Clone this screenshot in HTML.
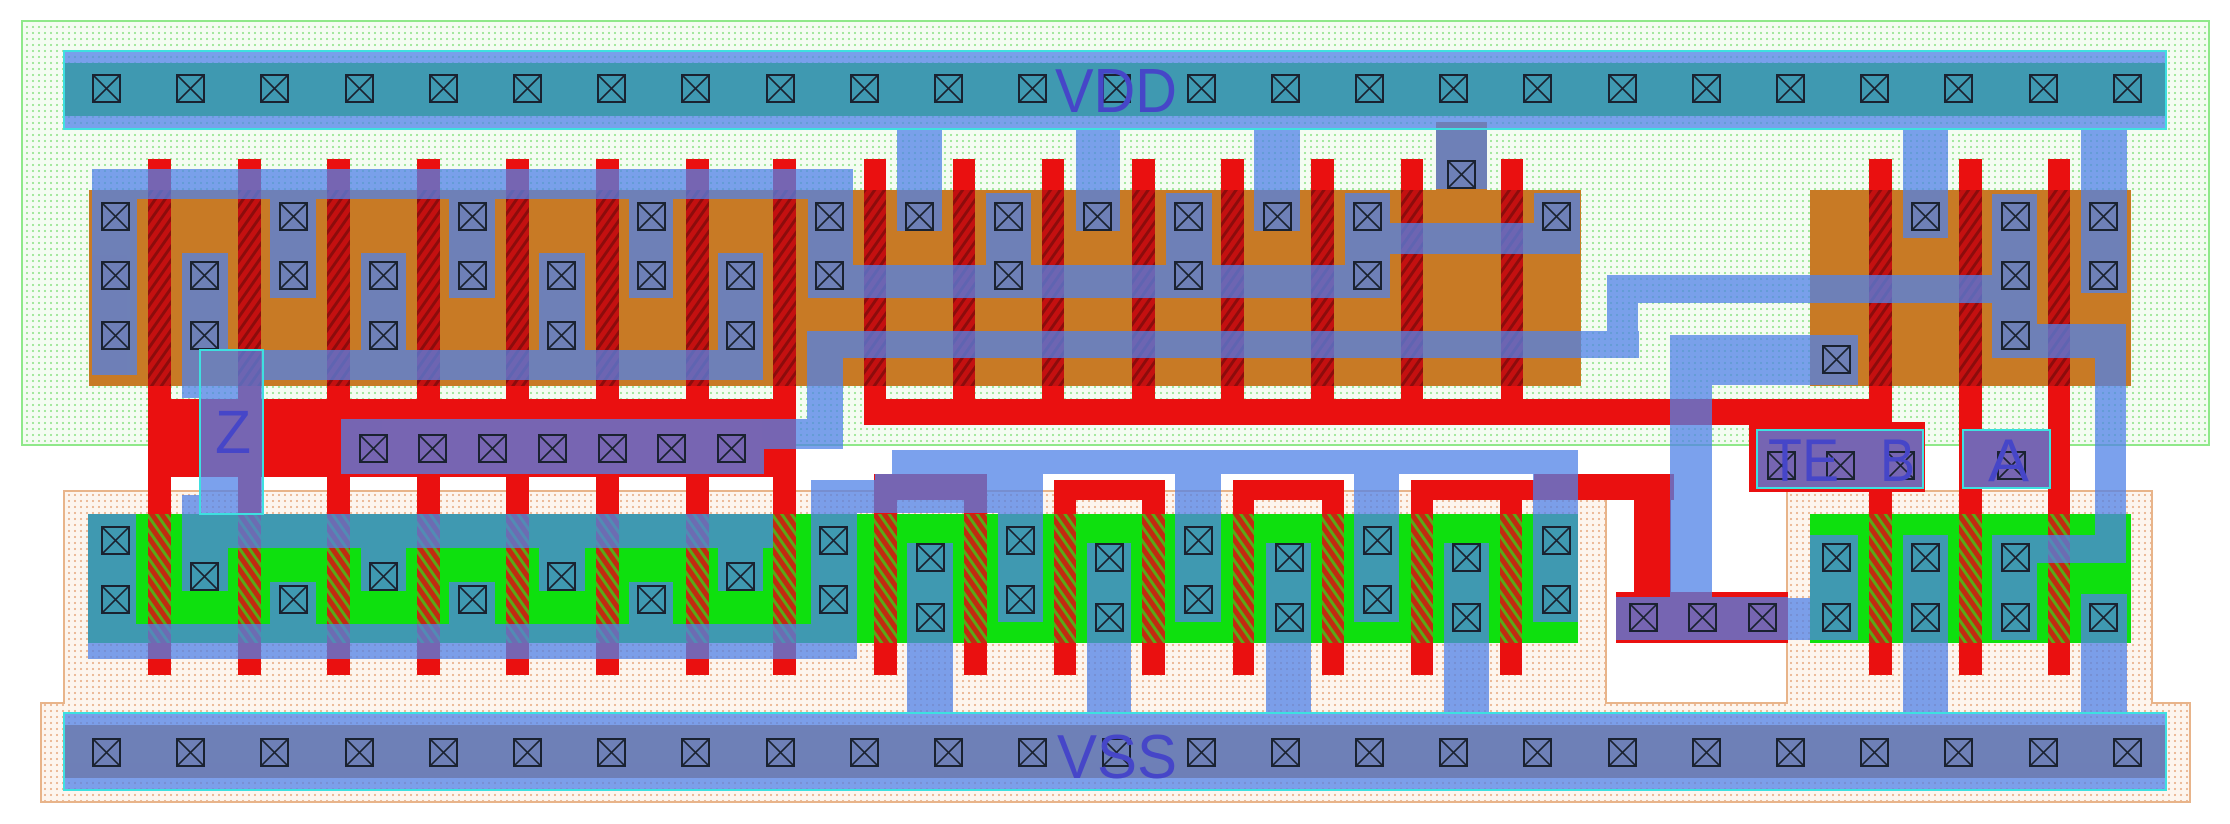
<!DOCTYPE html>
<html><head><meta charset="utf-8"><style>html,body{margin:0;padding:0;background:#fff}svg{display:block}</style></head>
<body>
<svg xmlns="http://www.w3.org/2000/svg" width="2230" height="824" viewBox="0 0 2230 824">
<defs>
<pattern id="nw" width="6" height="6" patternUnits="userSpaceOnUse"><rect width="6" height="6" fill="#f4fcf2"/><circle cx="3" cy="3" r="1.1" fill="#9ce696"/></pattern>
<pattern id="pw" width="6" height="6" patternUnits="userSpaceOnUse"><rect width="6" height="6" fill="#fdf5ee"/><circle cx="3" cy="3" r="1.1" fill="#eab590"/></pattern>
<pattern id="pg" width="8" height="8" patternUnits="userSpaceOnUse" patternTransform="rotate(35)"><rect width="8" height="8" fill="#c41010"/><rect width="3" height="8" fill="#8c0c0c"/></pattern>
<pattern id="ng" width="8" height="8" patternUnits="userSpaceOnUse" patternTransform="rotate(-35)"><rect width="8" height="8" fill="#c22a10"/><rect width="3" height="8" fill="#5aa818"/></pattern>
<symbol id="c" viewBox="0 0 29 29" width="29" height="29"><rect x="1" y="1" width="27" height="27" fill="none" stroke="#1a2230" stroke-width="2"/><path d="M1 1L28 28M28 1L1 28" stroke="#1a2230" stroke-width="1.6"/></symbol>
</defs>

<rect x="22" y="21" width="2187" height="424" fill="url(#nw)" stroke="#8fe88a" stroke-width="2"/>
<polygon points="64,491 1606,491 1606,703 1787,703 1787,491 2152,491 2152,703 2190,703 2190,802 41,802 41,703 64,703" fill="url(#pw)" stroke="#e8b48a" stroke-width="2"/>

<g fill="#c87a25">
<rect x="89" y="190" width="1492" height="196"/>
<rect x="1810" y="190" width="321" height="196"/>
<rect x="1436" y="122" width="51" height="68"/>
<rect x="64" y="725" width="2102" height="53"/>
</g>
<g fill="#0ee00e">
<rect x="88" y="514" width="1490" height="129"/>
<rect x="1810" y="514" width="321" height="129"/>
<rect x="64" y="63" width="2102" height="53"/>
</g>

<g fill="#ea1010">
<rect x="148" y="159" width="23" height="516"/><rect x="238" y="159" width="23" height="516"/>
<rect x="327" y="159" width="23" height="516"/><rect x="417" y="159" width="23" height="516"/>
<rect x="506" y="159" width="23" height="516"/><rect x="596" y="159" width="23" height="516"/>
<rect x="686" y="159" width="23" height="516"/><rect x="773" y="159" width="23" height="516"/>
<rect x="148" y="399" width="648" height="78"/>
<rect x="864" y="159" width="22" height="266"/><rect x="953" y="159" width="22" height="266"/>
<rect x="1042" y="159" width="22" height="266"/><rect x="1132" y="159" width="23" height="266"/>
<rect x="1221" y="159" width="23" height="266"/><rect x="1311" y="159" width="23" height="266"/>
<rect x="1401" y="159" width="22" height="266"/><rect x="1501" y="159" width="22" height="266"/>
<rect x="864" y="399" width="1028" height="26"/>
<rect x="1749" y="422" width="176" height="70"/>
<rect x="1869" y="159" width="23" height="516"/>
<rect x="1959" y="159" width="23" height="516"/>
<rect x="2048" y="159" width="22" height="516"/>
<rect x="1959" y="430" width="111" height="58"/>
<rect x="874" y="474" width="23" height="201"/><rect x="964" y="474" width="23" height="201"/>
<rect x="1054" y="480" width="22" height="195"/><rect x="1142" y="480" width="23" height="195"/>
<rect x="1233" y="480" width="21" height="195"/><rect x="1322" y="480" width="22" height="195"/>
<rect x="1411" y="480" width="22" height="195"/><rect x="1500" y="480" width="22" height="195"/>
<rect x="874" y="474" width="113" height="26"/>
<rect x="1054" y="480" width="111" height="20"/>
<rect x="1233" y="480" width="111" height="20"/>
<rect x="1411" y="480" width="123" height="20"/>
<rect x="1534" y="474" width="140" height="26"/>
<rect x="1634" y="474" width="37" height="126"/>
<rect x="1616" y="592" width="172" height="51"/>
</g>

<g fill="url(#pg)">
<rect x="148" y="190" width="23" height="196"/><rect x="238" y="190" width="23" height="196"/>
<rect x="327" y="190" width="23" height="196"/><rect x="417" y="190" width="23" height="196"/>
<rect x="506" y="190" width="23" height="196"/><rect x="596" y="190" width="23" height="196"/>
<rect x="686" y="190" width="23" height="196"/><rect x="773" y="190" width="23" height="196"/>
<rect x="864" y="190" width="22" height="196"/><rect x="953" y="190" width="22" height="196"/>
<rect x="1042" y="190" width="22" height="196"/><rect x="1132" y="190" width="23" height="196"/>
<rect x="1221" y="190" width="23" height="196"/><rect x="1311" y="190" width="23" height="196"/>
<rect x="1401" y="190" width="22" height="196"/><rect x="1501" y="190" width="22" height="196"/>
<rect x="1869" y="190" width="23" height="196"/><rect x="1959" y="190" width="23" height="196"/>
<rect x="2048" y="190" width="22" height="196"/>
</g>
<g fill="url(#ng)">
<rect x="148" y="514" width="23" height="129"/><rect x="238" y="514" width="23" height="129"/>
<rect x="327" y="514" width="23" height="129"/><rect x="417" y="514" width="23" height="129"/>
<rect x="506" y="514" width="23" height="129"/><rect x="596" y="514" width="23" height="129"/>
<rect x="686" y="514" width="23" height="129"/><rect x="773" y="514" width="23" height="129"/>
<rect x="874" y="514" width="23" height="129"/><rect x="964" y="514" width="23" height="129"/>
<rect x="1054" y="514" width="22" height="129"/><rect x="1142" y="514" width="23" height="129"/>
<rect x="1233" y="514" width="21" height="129"/><rect x="1322" y="514" width="22" height="129"/>
<rect x="1411" y="514" width="22" height="129"/><rect x="1500" y="514" width="22" height="129"/>
<rect x="1869" y="514" width="23" height="129"/><rect x="1959" y="514" width="23" height="129"/>
<rect x="2048" y="514" width="22" height="129"/>
</g>

<g opacity="0.75" fill="rgb(80,130,232)">
<rect x="64" y="51" width="2102" height="78"/>
<rect x="64" y="713" width="2102" height="77"/>
<rect x="92" y="169" width="761" height="30"/>
<rect x="92" y="169" width="45" height="206"/>
<rect x="270" y="169" width="46" height="129"/><rect x="449" y="169" width="46" height="129"/>
<rect x="629" y="169" width="44" height="129"/><rect x="808" y="169" width="45" height="129"/>
<rect x="182" y="253" width="46" height="145"/><rect x="361" y="253" width="45" height="127"/>
<rect x="539" y="253" width="46" height="127"/><rect x="718" y="253" width="45" height="127"/>
<rect x="182" y="350" width="581" height="30"/>
<rect x="897" y="128" width="45" height="103"/><rect x="1076" y="128" width="44" height="103"/>
<rect x="1254" y="128" width="46" height="103"/>
<rect x="986" y="193" width="45" height="105"/><rect x="1166" y="193" width="46" height="105"/>
<rect x="1345" y="193" width="45" height="105"/>
<rect x="808" y="265" width="582" height="33"/>
<rect x="1534" y="193" width="46" height="61"/>
<rect x="1390" y="223" width="190" height="31"/>
<rect x="1436" y="122" width="51" height="67"/>
<rect x="807" y="331" width="832" height="27"/>
<rect x="1607" y="275" width="31" height="83"/>
<rect x="1607" y="275" width="385" height="28"/>
<rect x="807" y="331" width="36" height="118"/>
<rect x="341" y="419" width="423" height="55"/>
<rect x="764" y="419" width="79" height="30"/>
<rect x="1903" y="128" width="45" height="110"/>
<rect x="2081" y="128" width="46" height="165"/>
<rect x="1992" y="194" width="45" height="164"/>
<rect x="2037" y="324" width="89" height="34"/>
<rect x="2095" y="324" width="31" height="239"/>
<rect x="1670" y="335" width="188" height="50"/>
<rect x="1670" y="335" width="42" height="262"/>
<rect x="200" y="350" width="63" height="164"/>
<rect x="182" y="495" width="56" height="19"/>
<rect x="182" y="514" width="591" height="34"/>
<rect x="182" y="514" width="46" height="77"/><rect x="361" y="514" width="45" height="77"/>
<rect x="539" y="514" width="46" height="77"/><rect x="718" y="514" width="45" height="77"/>
<rect x="88" y="514" width="48" height="145"/>
<rect x="88" y="624" width="769" height="35"/>
<rect x="270" y="582" width="46" height="42"/><rect x="449" y="582" width="46" height="42"/>
<rect x="629" y="582" width="44" height="42"/>
<rect x="811" y="480" width="46" height="178"/>
<rect x="811" y="480" width="64" height="33"/>
<rect x="875" y="474" width="168" height="39"/>
<rect x="892" y="450" width="686" height="24"/>
<rect x="998" y="474" width="45" height="148"/><rect x="1175" y="450" width="46" height="172"/>
<rect x="1354" y="450" width="45" height="172"/><rect x="1533" y="450" width="45" height="172"/>
<rect x="907" y="543" width="46" height="170"/><rect x="1087" y="543" width="44" height="170"/>
<rect x="1266" y="543" width="45" height="170"/><rect x="1444" y="543" width="45" height="170"/>
<rect x="1534" y="474" width="44" height="26"/>
<rect x="1616" y="597" width="172" height="43"/>
<rect x="1788" y="598" width="70" height="42"/>
<rect x="1810" y="535" width="48" height="105"/>
<rect x="1903" y="535" width="45" height="178"/>
<rect x="1992" y="535" width="45" height="105"/>
<rect x="2037" y="535" width="88" height="28"/>
<rect x="2081" y="594" width="46" height="119"/>
<rect x="1757" y="430" width="166" height="58"/>
<rect x="1963" y="430" width="87" height="58"/>
</g>

<g>
<use href="#c" x="92" y="74"/><use href="#c" x="176" y="74"/><use href="#c" x="260" y="74"/><use href="#c" x="345" y="74"/><use href="#c" x="429" y="74"/><use href="#c" x="513" y="74"/><use href="#c" x="597" y="74"/><use href="#c" x="681" y="74"/><use href="#c" x="766" y="74"/><use href="#c" x="850" y="74"/><use href="#c" x="934" y="74"/><use href="#c" x="1018" y="74"/><use href="#c" x="1102" y="74"/><use href="#c" x="1187" y="74"/><use href="#c" x="1271" y="74"/><use href="#c" x="1355" y="74"/><use href="#c" x="1439" y="74"/><use href="#c" x="1523" y="74"/><use href="#c" x="1608" y="74"/><use href="#c" x="1692" y="74"/><use href="#c" x="1776" y="74"/><use href="#c" x="1860" y="74"/><use href="#c" x="1944" y="74"/><use href="#c" x="2029" y="74"/><use href="#c" x="2113" y="74"/>
<use href="#c" x="92" y="738"/><use href="#c" x="176" y="738"/><use href="#c" x="260" y="738"/><use href="#c" x="345" y="738"/><use href="#c" x="429" y="738"/><use href="#c" x="513" y="738"/><use href="#c" x="597" y="738"/><use href="#c" x="681" y="738"/><use href="#c" x="766" y="738"/><use href="#c" x="850" y="738"/><use href="#c" x="934" y="738"/><use href="#c" x="1018" y="738"/><use href="#c" x="1102" y="738"/><use href="#c" x="1187" y="738"/><use href="#c" x="1271" y="738"/><use href="#c" x="1355" y="738"/><use href="#c" x="1439" y="738"/><use href="#c" x="1523" y="738"/><use href="#c" x="1608" y="738"/><use href="#c" x="1692" y="738"/><use href="#c" x="1776" y="738"/><use href="#c" x="1860" y="738"/><use href="#c" x="1944" y="738"/><use href="#c" x="2029" y="738"/><use href="#c" x="2113" y="738"/>
<use href="#c" x="101" y="202"/><use href="#c" x="101" y="261"/><use href="#c" x="101" y="321"/>
<use href="#c" x="190" y="261"/><use href="#c" x="190" y="321"/>
<use href="#c" x="279" y="202"/><use href="#c" x="279" y="261"/>
<use href="#c" x="369" y="261"/><use href="#c" x="369" y="321"/>
<use href="#c" x="458" y="202"/><use href="#c" x="458" y="261"/>
<use href="#c" x="547" y="261"/><use href="#c" x="547" y="321"/>
<use href="#c" x="637" y="202"/><use href="#c" x="637" y="261"/>
<use href="#c" x="726" y="261"/><use href="#c" x="726" y="321"/>
<use href="#c" x="815" y="202"/><use href="#c" x="815" y="261"/>
<use href="#c" x="905" y="202"/><use href="#c" x="1083" y="202"/><use href="#c" x="1263" y="202"/>
<use href="#c" x="994" y="202"/><use href="#c" x="994" y="261"/>
<use href="#c" x="1174" y="202"/><use href="#c" x="1174" y="261"/>
<use href="#c" x="1353" y="202"/><use href="#c" x="1353" y="261"/>
<use href="#c" x="1542" y="202"/><use href="#c" x="1447" y="160"/>
<use href="#c" x="1911" y="202"/>
<use href="#c" x="2001" y="202"/><use href="#c" x="2001" y="261"/><use href="#c" x="2001" y="321"/>
<use href="#c" x="2089" y="202"/><use href="#c" x="2089" y="261"/>
<use href="#c" x="1822" y="345"/>
<use href="#c" x="359" y="434"/><use href="#c" x="418" y="434"/><use href="#c" x="478" y="434"/><use href="#c" x="538" y="434"/><use href="#c" x="598" y="434"/><use href="#c" x="657" y="434"/><use href="#c" x="717" y="434"/>
<use href="#c" x="101" y="526"/><use href="#c" x="101" y="585"/>
<use href="#c" x="190" y="562"/><use href="#c" x="369" y="562"/><use href="#c" x="547" y="562"/><use href="#c" x="726" y="562"/>
<use href="#c" x="279" y="585"/><use href="#c" x="458" y="585"/><use href="#c" x="637" y="585"/>
<use href="#c" x="819" y="526"/><use href="#c" x="819" y="585"/>
<use href="#c" x="1006" y="526"/><use href="#c" x="1006" y="585"/>
<use href="#c" x="1184" y="526"/><use href="#c" x="1184" y="585"/>
<use href="#c" x="1363" y="526"/><use href="#c" x="1363" y="585"/>
<use href="#c" x="1542" y="526"/><use href="#c" x="1542" y="585"/>
<use href="#c" x="916" y="543"/><use href="#c" x="916" y="603"/>
<use href="#c" x="1095" y="543"/><use href="#c" x="1095" y="603"/>
<use href="#c" x="1275" y="543"/><use href="#c" x="1275" y="603"/>
<use href="#c" x="1452" y="543"/><use href="#c" x="1452" y="603"/>
<use href="#c" x="1629" y="603"/><use href="#c" x="1688" y="603"/><use href="#c" x="1748" y="603"/>
<use href="#c" x="1822" y="543"/><use href="#c" x="1822" y="603"/>
<use href="#c" x="1911" y="543"/><use href="#c" x="1911" y="603"/>
<use href="#c" x="2001" y="543"/><use href="#c" x="2001" y="603"/>
<use href="#c" x="2089" y="603"/>
<use href="#c" x="1767" y="451"/><use href="#c" x="1826" y="451"/><use href="#c" x="1886" y="451"/>
<use href="#c" x="1997" y="451"/>
</g>

<g fill="none" stroke="#3ee0e0" stroke-width="2">
<rect x="64" y="51" width="2102" height="78"/>
<rect x="64" y="713" width="2102" height="77"/>
<rect x="200" y="350" width="63" height="164"/>
<rect x="1757" y="430" width="166" height="58"/>
<rect x="1963" y="430" width="87" height="58"/>
</g>

<g fill="#4646c8" font-family="Liberation Sans, sans-serif">
<text x="1055" y="112" font-size="62" textLength="122" lengthAdjust="spacingAndGlyphs">VDD</text>
<text x="1057" y="778" font-size="62" textLength="120" lengthAdjust="spacingAndGlyphs">VSS</text>
<text x="215" y="453" font-size="61" textLength="36" lengthAdjust="spacingAndGlyphs">Z</text>
<text x="1768" y="481" font-size="60" textLength="71" lengthAdjust="spacingAndGlyphs">TE</text>
<text x="1880" y="481" font-size="60" textLength="35" lengthAdjust="spacingAndGlyphs">B</text>
<text x="1988" y="481" font-size="60" textLength="41" lengthAdjust="spacingAndGlyphs">A</text>
</g>
</svg>
</body></html>
